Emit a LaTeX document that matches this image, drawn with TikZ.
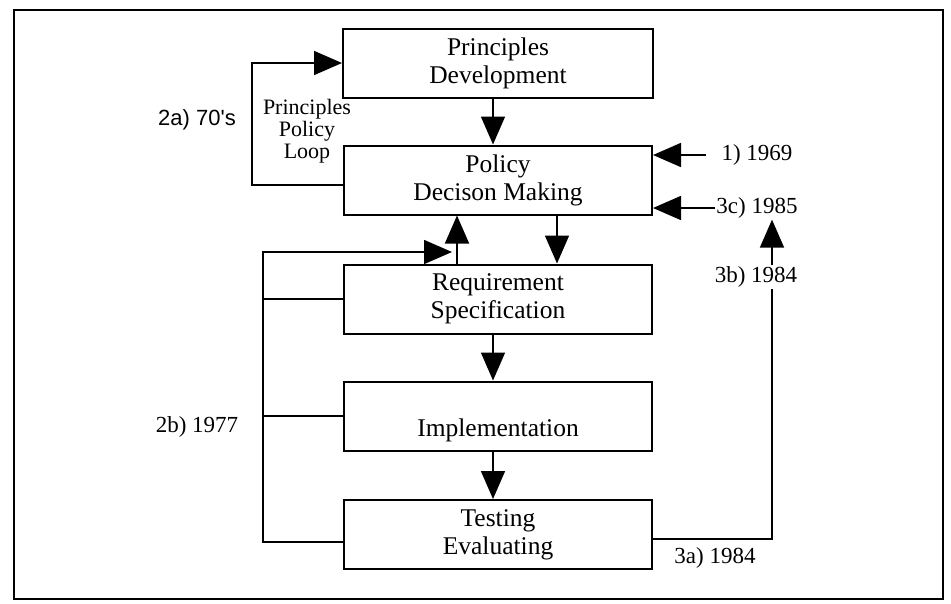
\documentclass[tikz,border=0pt]{standalone}
\usepackage{fontspec}
\setmainfont{Liberation Serif}
\newfontfamily\labelsans{Liberation Sans}
\usetikzlibrary{arrows.meta}
\begin{document}
\begin{tikzpicture}[x=1pt,y=-1pt,
  box/.style={draw, line width=2pt, minimum width=308pt, minimum height=69pt,
    align=center, inner sep=0pt, font=\fontsize{25.5}{28}\selectfont},
  link/.style={line width=1.6pt},
  arr/.style={link, -{Triangle[length=28pt,width=24pt]}},
  lbl/.style={font=\fontsize{23}{27}\selectfont, inner sep=1pt}]

\useasboundingbox (0,0) rectangle (951,603);
\draw[line width=2.4pt] (14,10) rectangle (943,599);

% the five stages
\node[box, minimum width=310pt] (pd) at (498,63) {Principles\\Development};
\node[box] (pdm) at (498,180) {Policy\\Decison Making};
\node[box] (rs) at (498,299) {Requirement\\Specification};
\node[box] (im) at (498,416) {};
\node[font=\fontsize{25.5}{28}\selectfont] (imtext) at (498,430) {Implementation};
\node[box] (te) at (498,534.5) {Testing\\Evaluating};

% helper columns and rows
\coordinate (c1) at (493,0);
\coordinate (c2) at (557,0);
\coordinate (c3) at (457,0);
\coordinate (tipx) at (452,0);
\coordinate (lx) at (263,0);
\coordinate (loopx) at (252,0);
\coordinate (rx) at (772,0);
\coordinate (ly) at (0,185);
\coordinate (yt) at (0,252);
\coordinate (yb) at (0,542);
\coordinate (yr) at (0,539);
\coordinate (s1969) at (706,155);

% main downward flow
\draw[arr] (pd.south -| c1) -- (pdm.north -| c1);
\draw[arr] (pdm.south -| c2) -- (rs.north -| c2);
\draw[arr] (rs.south -| c1) -- (im.north -| c1);
\draw[arr] (im.south -| c1) -- (te.north -| c1);

% principles / policy loop
\draw[arr] (pdm.west |- ly) -- (loopx |- ly) -- (loopx |- pd.west) -- (pd.west);
\node[font=\fontsize{22}{22}\selectfont, align=center, inner sep=0pt] (loopl) at (307,131) {Principles\\Policy\\Loop};
\node[font=\labelsans\fontsize{22}{26}\selectfont] (l2a) at (197,120) {2a) 70's};

% feedback bus on the left
\draw[arr] (te.west |- yb) -- (lx |- yb) -- (lx |- yt) -- (tipx |- yt);
\draw[link] (lx |- rs.west) -- (rs.west);
\draw[link] (lx |- im.west) -- (im.west);
\draw[arr] (c3 |- rs.north) -- (c3 |- pdm.south);
\node[lbl] (l2b) at (197,427) {2b) 1977};

% inputs on the right
\node[lbl] (l1969) at (757,155) {1) 1969};
\draw[arr] (s1969) -- (pdm.east |- s1969);
\node[lbl] (l3c) at (757,208) {3c) 1985};
\draw[arr] (l3c.west) -- (pdm.east |- l3c.west);
\node[lbl] (l3b) at (756,277) {3b) 1984};
\draw[arr] (rx |- l3b.north) -- (rx |- l3c.south);
\node[lbl] (l3a) at (715,558) {3a) 1984};
\draw[link] (te.east |- yr) -- (rx |- yr) -- (rx |- l3b.south);
\end{tikzpicture}
\end{document}
